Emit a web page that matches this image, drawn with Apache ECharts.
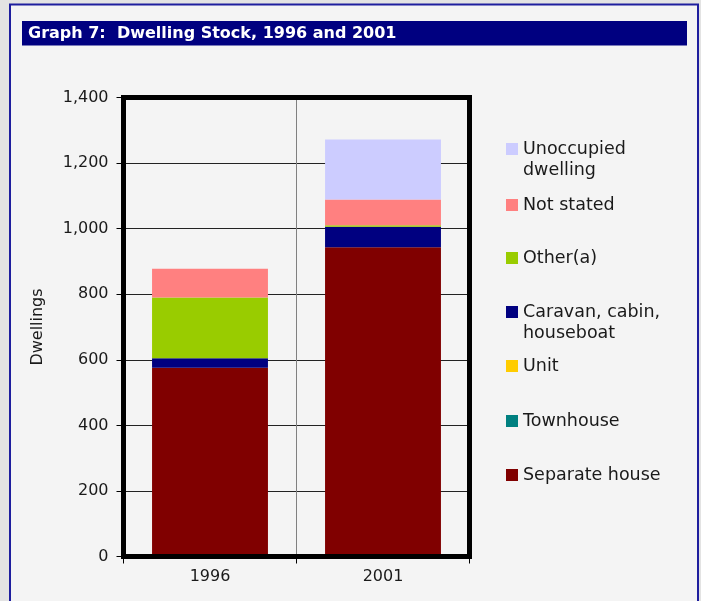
<!DOCTYPE html>
<html>
<head>
<meta charset="utf-8">
<script src="https://cdn.jsdelivr.net/npm/echarts@6/dist/echarts.min.js"></script>
<style>
  html, body { margin: 0; padding: 0; background: #e3e3e3; }
  #main { width: 701px; height: 601px; }
</style>
</head>
<body>
<div id="main"></div>
<script>
// data
const years = ['1996', '2001']
const separateHouse = [576, 943]
const townhouse = [0, 0]
const unit = [0, 0]
const caravan = [29, 63]
const otherA = [185, 4]
const notStated = [88, 79]
const unoccupied = [0, 183]
const yTicks = [0, 200, 400, 600, 800, 1000, 1200, 1400]

const seriesDefs = [
    { name: 'Separate house', data: separateHouse, color: '#800000' },
    { name: 'Townhouse', data: townhouse, color: '#008080' },
    { name: 'Unit', data: unit, color: '#ffcc00' },
    { name: 'Caravan, cabin,\nhouseboat', data: caravan, color: '#000080' },
    { name: 'Other(a)', data: otherA, color: '#99cc00' },
    { name: 'Not stated', data: notStated, color: '#ff8080' },
    { name: 'Unoccupied\ndwelling', data: unoccupied, color: '#ccccff' },
]

// legend rows, top to bottom, with marker centre y
const legendRows = [
    { name: 'Unoccupied\ndwelling', y: 149 },
    { name: 'Not stated', y: 205 },
    { name: 'Other(a)', y: 258 },
    { name: 'Caravan, cabin,\nhouseboat', y: 312 },
    { name: 'Unit', y: 366 },
    { name: 'Townhouse', y: 421 },
    { name: 'Separate house', y: 475 },
]

const textFont = '"DejaVu Sans", sans-serif'

const chart = echarts.init(document.getElementById('main'))

const legends = legendRows.map((row) => {
    const twoLines = row.name.indexOf('\n') >= 0
    return {
        data: [row.name],
        left: 506,
        // two-line names get an empty first line so the marker sits on the first text line
        top: twoLines ? row.y - 31.5 : row.y - 10.5,
        orient: 'vertical',
        itemWidth: 12,
        itemHeight: 12,
        itemGap: 0,
        padding: 0,
        icon: 'rect',
        selectedMode: false,
        formatter: (n) => (twoLines ? '\n' + n : n),
        textStyle: {
            fontFamily: textFont,
            fontSize: 17.5,
            color: '#1a1a1a',
            lineHeight: 21,
        },
    }
})

chart.setOption({
    backgroundColor: '#e3e3e3',
    animation: false,
    graphic: [
        {
            type: 'rect',
            z: -10,
            shape: { x: 10, y: 4.5, width: 688, height: 640 },
            style: { fill: '#f4f4f4', stroke: '#1e1e9e', lineWidth: 2 },
        },
        {
            type: 'rect',
            z: -9,
            shape: { x: 22, y: 21, width: 665, height: 24.5 },
            style: { fill: '#000080' },
        },
    ],
    title: {
        text: 'Graph 7:  Dwelling Stock, 1996 and 2001',
        left: 28,
        top: 26,
        padding: 0,
        textStyle: {
            fontFamily: textFont,
            fontSize: 16,
            fontWeight: 'bold',
            color: '#ffffff',
        },
    },
    legend: legends,
    grid: {
        left: 123.5,
        right: 231.5,
        top: 97.5,
        bottom: 44.5,
        show: true,
        borderColor: '#000',
        borderWidth: 5,
        backgroundColor: 'transparent',
        z: 5,
    },
    xAxis: {
        type: 'category',
        data: years,
        axisLine: { show: false },
        axisTick: { show: true, length: 7, lineStyle: { color: '#000' } },
        splitLine: { show: true, lineStyle: { color: '#808080', width: 1 } },
        axisLabel: {
            margin: 12,
            fontFamily: textFont,
            fontSize: 16,
            color: '#1a1a1a',
        },
    },
    yAxis: {
        type: 'value',
        min: yTicks[0],
        max: yTicks[yTicks.length - 1],
        interval: 200,
        name: 'Dwellings',
        nameLocation: 'middle',
        nameRotate: 90,
        nameGap: 78,
        nameTextStyle: {
            fontFamily: textFont,
            fontSize: 16,
            color: '#1a1a1a',
        },
        axisLine: { show: false },
        axisTick: { show: true, length: 7, lineStyle: { color: '#000' } },
        splitLine: { show: true, lineStyle: { color: '#222', width: 1 } },
        axisLabel: {
            margin: 15,
            fontFamily: textFont,
            fontSize: 16,
            color: '#1a1a1a',
            formatter: (v) => v.toLocaleString('en-US'),
        },
    },
    series: seriesDefs.map((s) => ({
        name: s.name,
        type: 'bar',
        stack: 'dwellings',
        barWidth: '67%',
        data: s.data,
        itemStyle: { color: s.color },
        emphasis: { disabled: true },
    })),
})

window.addEventListener('resize', () => chart.resize())
</script>
</body>
</html>
